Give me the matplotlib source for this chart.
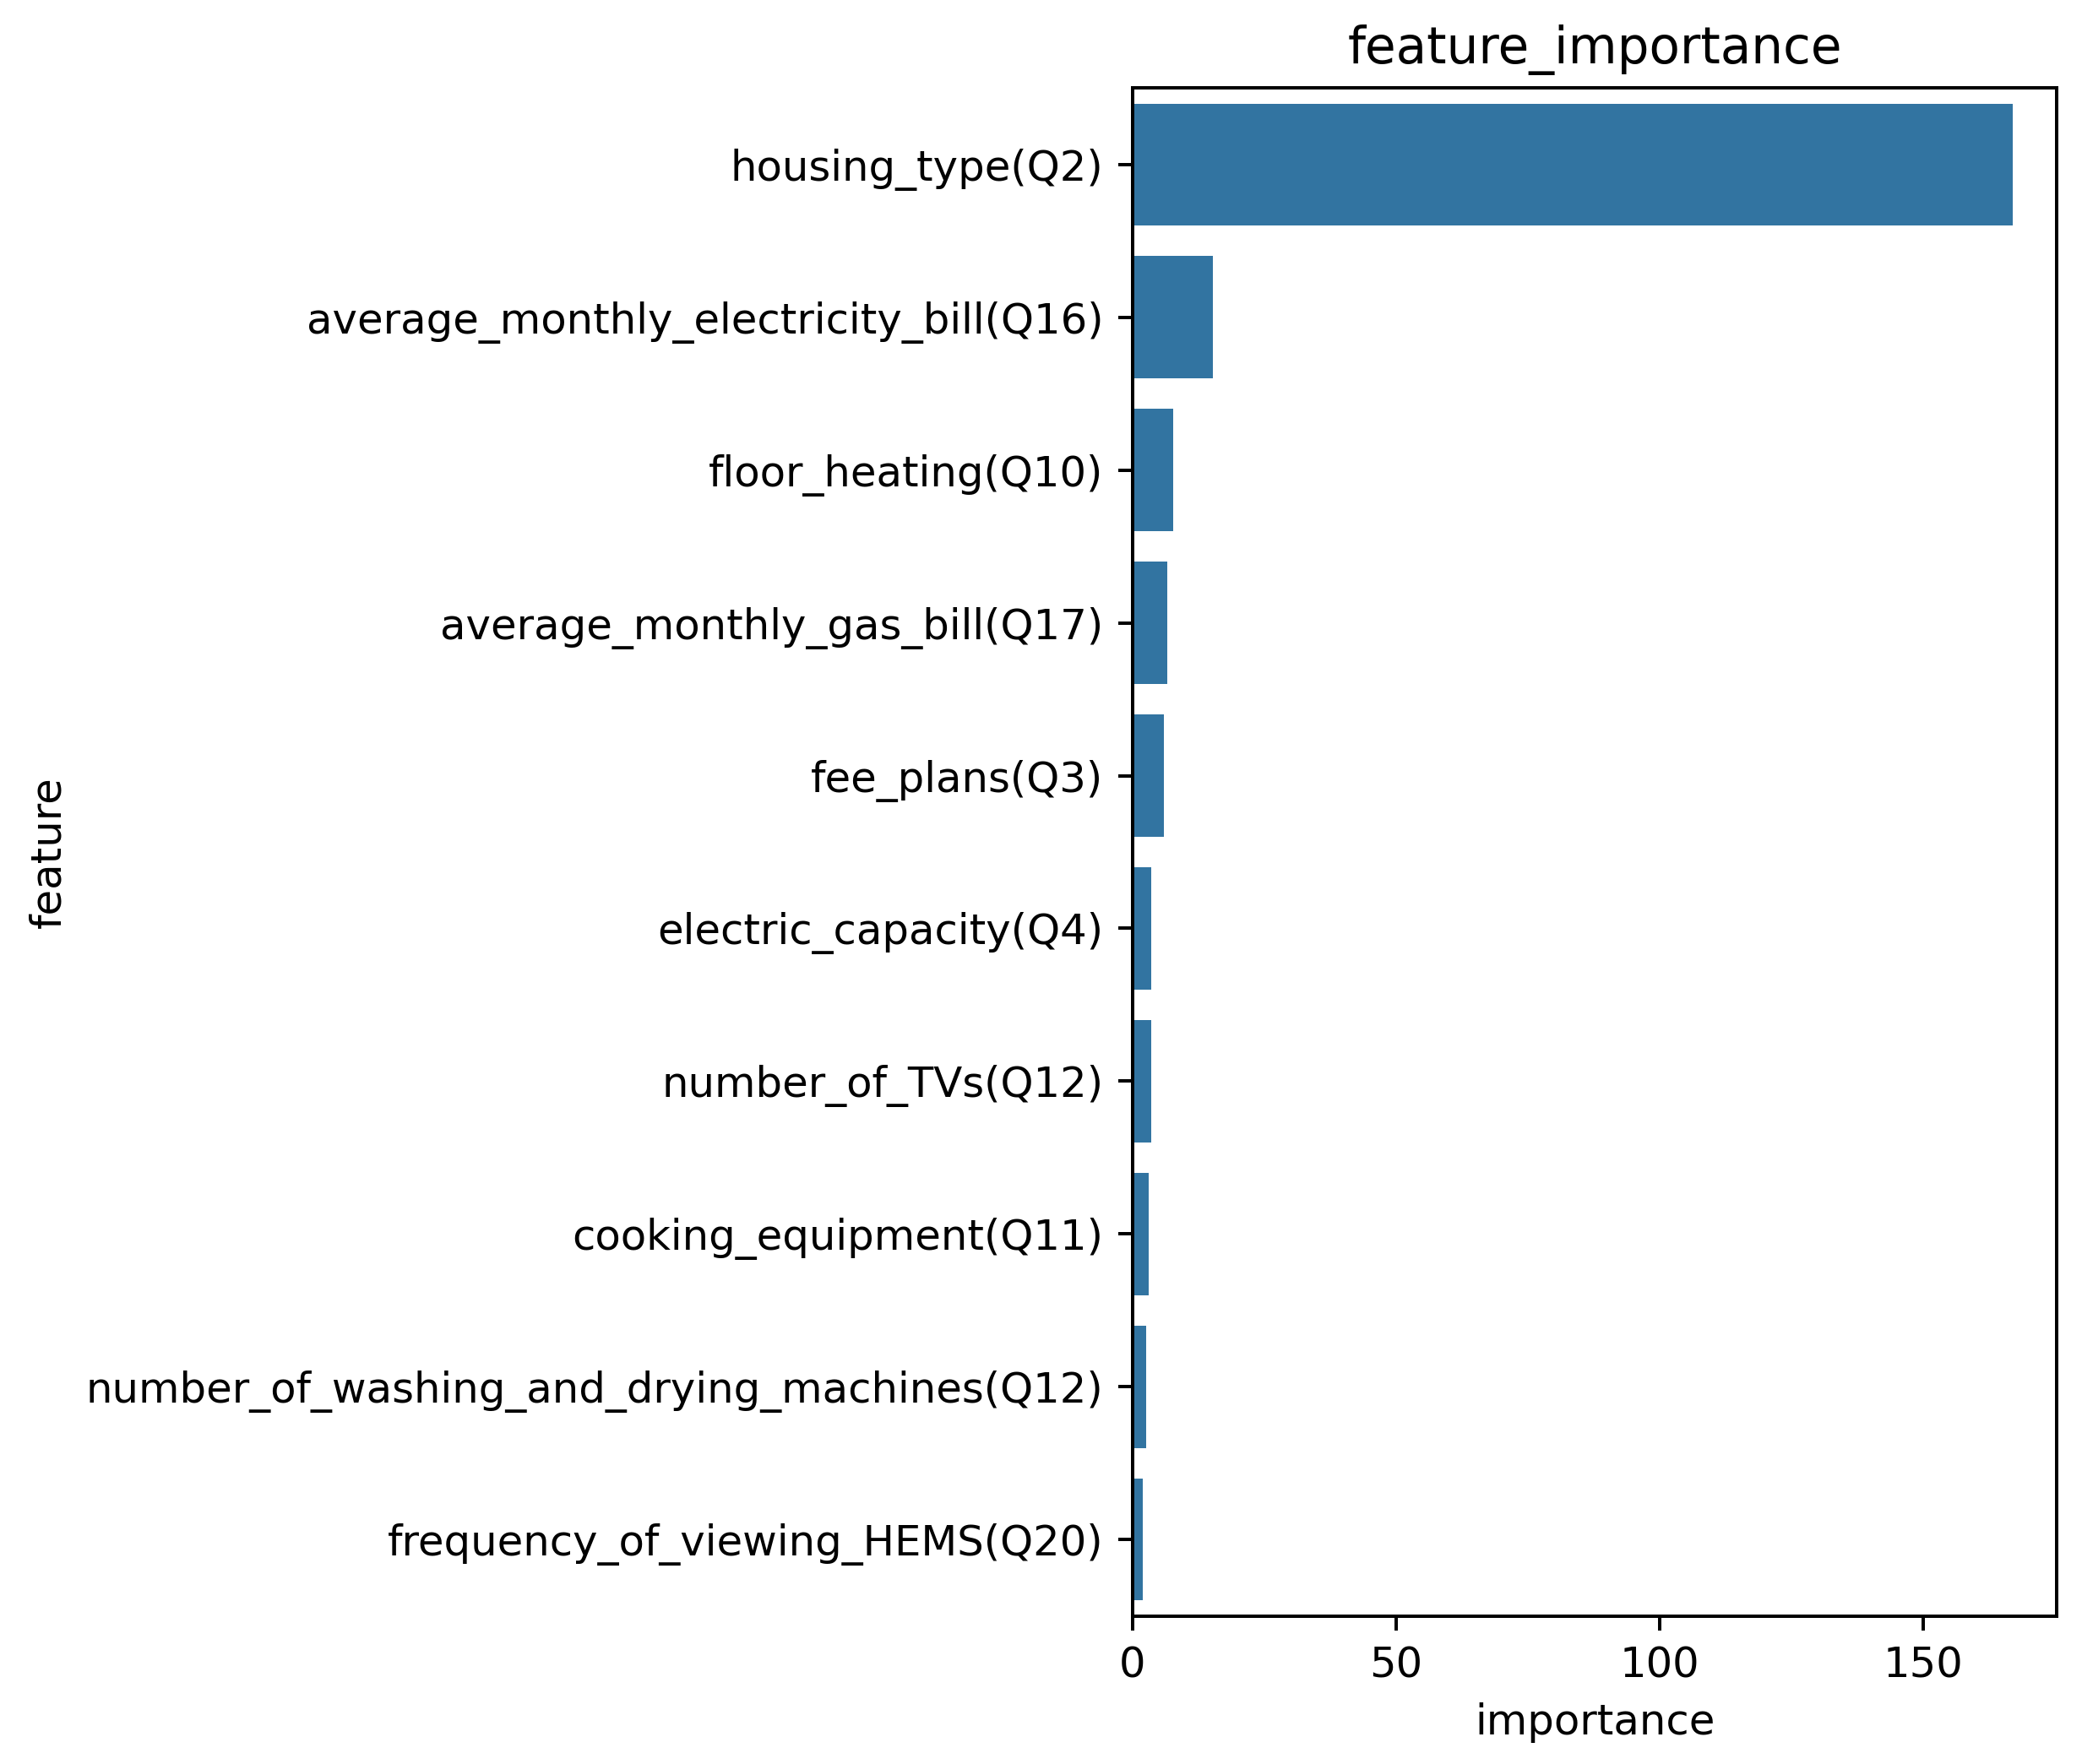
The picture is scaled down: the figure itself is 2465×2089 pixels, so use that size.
import matplotlib
matplotlib.use("Agg")
import matplotlib.pyplot as plt
import pandas as pd
import seaborn as sns

# feature importance values
features = [
    "housing_type(Q2)",
    "average_monthly_electricity_bill(Q16)",
    "floor_heating(Q10)",
    "average_monthly_gas_bill(Q17)",
    "fee_plans(Q3)",
    "electric_capacity(Q4)",
    "number_of_TVs(Q12)",
    "cooking_equipment(Q11)",
    "number_of_washing_and_drying_machines(Q12)",
    "frequency_of_viewing_HEMS(Q20)",
]
importance = [167.1, 15.2, 7.7, 6.5, 6.0, 3.6, 3.6, 3.1, 2.5, 1.9]

df = pd.DataFrame({"feature": features, "importance": importance})

DPI = 358
fig = plt.figure(figsize=(2465 / DPI, 2089 / DPI), dpi=DPI)
ax = fig.add_axes([0.544, 0.084, 0.444, 0.866])
sns.barplot(x="importance", y="feature", data=df, ax=ax)
ax.set_title("feature_importance")

fig.savefig("out.png", dpi=DPI, facecolor="white")
